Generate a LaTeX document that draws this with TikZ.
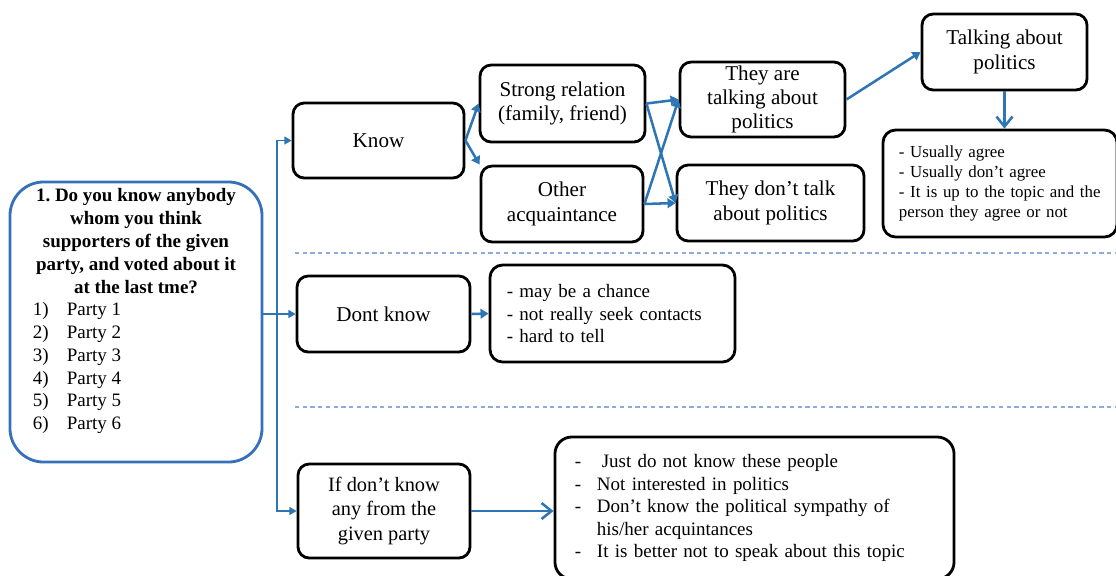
\documentclass[tikz,border=0pt]{standalone}
\usepackage{fontspec}
\setmainfont{Liberation Serif}
\usetikzlibrary{arrows.meta, positioning, calc}
\definecolor{qblue}{RGB}{52,112,188}
\definecolor{arrowblue}{RGB}{46,117,182}
\definecolor{dashblue}{RGB}{140,170,220}
\tikzset{
  box/.style={draw=black, line width=2pt, rounded corners=8pt, align=center, inner sep=1pt,
              font=\fontsize{15}{17.7}\selectfont},
  listbox/.style={draw=black, line width=2pt, rounded corners=9pt, align=left, inner xsep=0.42cm,
                  font=\fontsize{13.5}{16}\selectfont},
  qbox/.style={draw=qblue, line width=2pt, rounded corners=24pt, inner xsep=0.15cm, inner ysep=0.1cm,
               font=\fontsize{13.5}{16.2}\selectfont},
  flow/.style={arrowblue, line width=1.8pt, -{Triangle[length=2mm, width=2.4mm]}},
  bigflow/.style={arrowblue, line width=1.8pt, -{Straight Barb[length=2.5mm, width=4mm]}},
  feed/.style={arrowblue, line width=0.9pt, -{Triangle[length=1.8mm, width=2mm]}},
  divider/.style={dashblue, line width=0.8pt, dash pattern=on 3pt off 2.5pt}
}

\begin{document}
\begin{tikzpicture}[x=0.025cm, y=-0.025cm]
  \useasboundingbox (0,0) rectangle (1116,575);

  % question
  \node[qbox] (q) at (136,322) {\begin{minipage}[t][6.8cm][t]{6.0cm}
    \vspace*{2pt}
    \centering\bfseries 1.\ Do you know anybody\\whom you think\\supporters of the given\\party, and voted about it\\at the last tme?\par
    \raggedright\mdseries
    \hspace*{0.42cm}\makebox[0.85cm][l]{1)}Party 1\\
    \hspace*{0.42cm}\makebox[0.85cm][l]{2)}Party 2\\
    \hspace*{0.42cm}\makebox[0.85cm][l]{3)}Party 3\\
    \hspace*{0.42cm}\makebox[0.85cm][l]{4)}Party 4\\
    \hspace*{0.42cm}\makebox[0.85cm][l]{5)}Party 5\\
    \hspace*{0.42cm}\makebox[0.85cm][l]{6)}Party 6
  \end{minipage}};

  % know branch
  \node[box, minimum width=4.275cm, minimum height=1.875cm] (know) at (378.5,140.5) {Know};
  \node[box, minimum width=4.125cm, minimum height=1.925cm] (strong) at (562.5,103.5) {Strong relation\\(family, friend)};
  \node[box, minimum width=4.05cm, minimum height=1.9cm] (other) at (562,204) {Other\\acquaintance};
  \node[box, minimum width=4.125cm, minimum height=1.875cm, font=\fontsize{15}{16.8}\selectfont] (talk) at (762.5,99.5) {They are\\talking about\\politics};
  \node[box, minimum width=4.675cm, minimum height=1.9cm] (notalk) at (770.5,203) {They don’t talk\\about politics};
  \node[box, minimum width=4.125cm, minimum height=1.9cm] (tabout) at (1004.5,52) {Talking about\\politics};
  \node[listbox, text width=5.05cm, inner xsep=0.4cm, minimum height=2.675cm, font=\fontsize{12}{14.2}\selectfont] (agree) at (1000,183.5)
    {- Usually agree\\- Usually don’t agree\\- It is up to the topic and the\\person they agree or not};

  % dont know branch
  \node[box, minimum width=4.325cm, minimum height=1.9cm] (dk) at (383.5,314) {Dont know};
  \node[listbox, text width=5.285cm, minimum height=2.425cm] (dklist) at (612.5,313.5)
    {- may be a chance\\- not really seek contacts\\- hard to tell};

  % nobody from the party
  \node[box, minimum width=4.3cm, minimum height=2.35cm, font=\fontsize{14.5}{17.3}\selectfont] (idk) at (384,511) {If don’t know\\any from the\\given party};
  \node[listbox, text width=8.975cm, inner xsep=0.5cm, minimum height=3.55cm, rounded corners=12pt] (last) at (754.5,508)
    {\makebox[0.55cm][l]{-}\hspace{0.12cm}Just do not know these people\\
     \makebox[0.55cm][l]{-}Not interested in politics\\
     \makebox[0.55cm][l]{-}Don’t know the political sympathy of\\
     \hspace*{0.55cm}his/her acquintances\\
     \makebox[0.55cm][l]{-}It is better not to speak about this topic};

  \draw[divider] (295,253) -- (1116,253);
  \draw[divider] (295,407) -- (1116,407);

  \coordinate (fork) at (277,314);
  \draw[feed] (q.east |- dk.west) -- (dk.west);
  \draw[feed] (fork) |- (know.west);
  \draw[feed] (fork) |- (idk.west);

  \draw[flow] (know.east) -- (strong.west);
  \draw[flow] (know.east) -- (other.north west);
  \foreach \a in {strong, other}
    \foreach \b in {talk, notalk}
      \draw[flow] (\a.east) -- (\b.west);
  \draw[flow] (talk.east) -- (tabout.west);
  \draw[bigflow] (tabout.south) -- (tabout.south |- agree.north);
  \draw[flow] (dk.east) -- (dklist.west);
  \draw[bigflow] (idk.east) -- (idk.east -| last.west);
\end{tikzpicture}
\end{document}
